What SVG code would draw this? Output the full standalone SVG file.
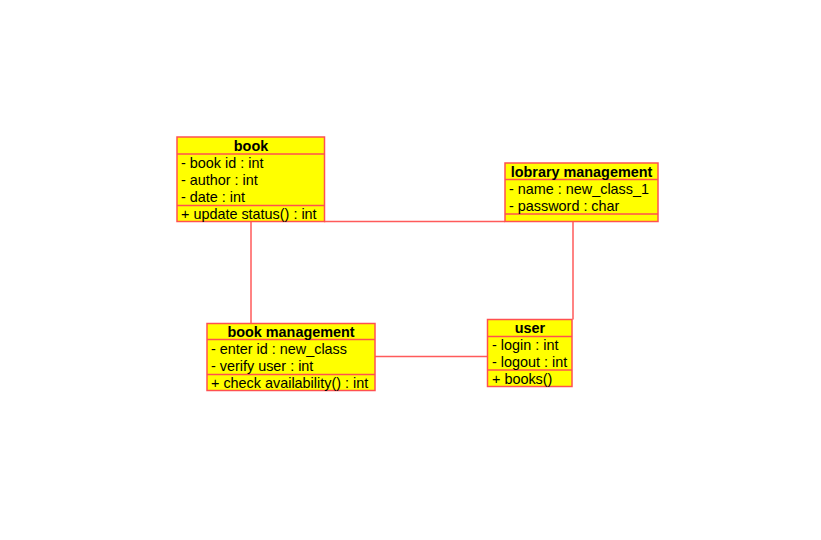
<svg xmlns="http://www.w3.org/2000/svg" width="821" height="540" viewBox="0 0 821 540">
<style>
.box{fill:#ffff00;stroke:#ff5050;stroke-width:1.5}
.sep{stroke:#ff5050;stroke-width:1.5}
.conn{stroke:#ff5a5a;stroke-width:1.5;fill:none}
text{font-family:"Liberation Sans",Arial,sans-serif;font-size:14.4px;fill:#000}
.h{font-weight:bold;text-anchor:middle}
</style>
<rect width="821" height="540" fill="#fff"/>
<g id="connectors">
<line class="conn" x1="324" y1="221.5" x2="505" y2="221.5"/>
<line class="conn" x1="251" y1="221.5" x2="251" y2="323.5"/>
<line class="conn" x1="573" y1="221.5" x2="573" y2="319.5"/>
<line class="conn" x1="375" y1="356.5" x2="487.5" y2="356.5"/>
</g>
<g id="book">
<rect class="box" x="177" y="137" width="147.5" height="84.5"/>
<line class="sep" x1="177" y1="154" x2="324.5" y2="154"/>
<line class="sep" x1="177" y1="205.5" x2="324.5" y2="205.5"/>
<text class="h" x="251" y="150.5">book</text>
<text x="181" y="167.5">- book id : int</text>
<text x="181" y="184.5">- author : int</text>
<text x="181" y="201.5">- date : int</text>
<text x="181" y="218.5">+ update status() : int</text>
</g>
<g id="lobrary-management">
<rect class="box" x="505" y="163" width="153" height="58.5"/>
<line class="sep" x1="505" y1="179.5" x2="658" y2="179.5"/>
<line class="sep" x1="505" y1="214" x2="658" y2="214"/>
<text class="h" x="581.5" y="176.5">lobrary management</text>
<text x="509" y="193.5">- name : new_class_1</text>
<text x="509" y="210.5">- password : char</text>
</g>
<g id="book-management">
<rect class="box" x="207" y="323.5" width="168" height="67"/>
<line class="sep" x1="207" y1="339.5" x2="375" y2="339.5"/>
<line class="sep" x1="207" y1="374.5" x2="375" y2="374.5"/>
<text class="h" x="291" y="336.5">book management</text>
<text x="211" y="353.5">- enter id : new_class</text>
<text x="211" y="370.5">- verify user : int</text>
<text x="211" y="387.5">+ check availability() : int</text>
</g>
<g id="user">
<rect class="box" x="487.5" y="319.5" width="84.5" height="67"/>
<line class="sep" x1="487.5" y1="336.5" x2="572" y2="336.5"/>
<line class="sep" x1="487.5" y1="370" x2="572" y2="370"/>
<text class="h" x="530" y="332.5">user</text>
<text x="492" y="349.5">- login : int</text>
<text x="492" y="366.5">- logout : int</text>
<text x="492" y="383.5">+ books()</text>
</g>
</svg>
